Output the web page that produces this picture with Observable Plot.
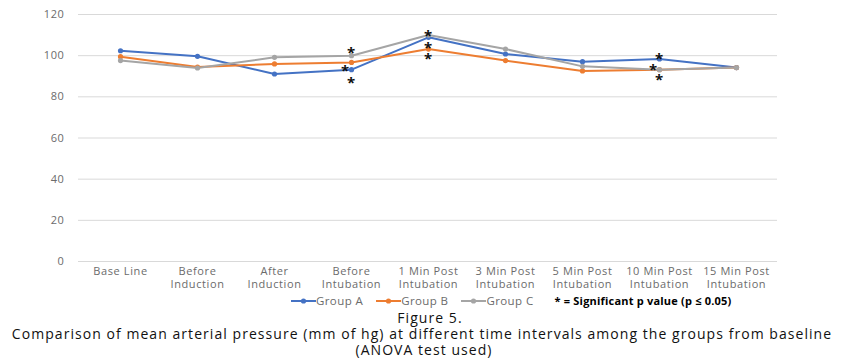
<!DOCTYPE html>
<html>
<head>
<meta charset="utf-8">
<script src="https://cdn.jsdelivr.net/npm/d3@7"></script>
<script src="https://cdn.jsdelivr.net/npm/@observablehq/plot@0.6"></script>
<style>
  body { margin: 0; background: #fff; font-family: "Open Sans", sans-serif; }
  #wrap { position: relative; width: 844px; height: 360px; }
  #legend { position: absolute; left: 291px; top: 293px; display: flex; align-items: center; font-size: 11.5px; letter-spacing: 0.4px; color: #6b6b6b; white-space: nowrap; line-height: 16px; }
  #legend .item { display: flex; align-items: center; margin-right: 13px; }
  #legend .sig { color: #000; font-weight: bold; margin-left: 8px; font-size: 11px; letter-spacing: 0.2px; }
  .cap { position: absolute; left: 0; width: 844px; text-align: center; color: #111; font-size: 14px; letter-spacing: 1.05px; white-space: nowrap; line-height: 15px; height: 15px; }
</style>
</head>
<body>
<div id="wrap">
  <div id="chart"></div>
  <div id="legend"></div>
  <div class="cap" style="top:310px; left:8px">Figure 5.</div>
  <div class="cap" style="top:326px">Comparison of mean arterial pressure (mm of hg) at different time intervals among the groups from baseline</div>
  <div class="cap" style="top:342px; left:2px">(ANOVA test used)</div>
</div>
<script>
const categories = [
  "Base Line", "Before\nInduction", "After\nInduction", "Before\nIntubation",
  "1 Min Post\nIntubation", "3 Min Post\nIntubation", "5 Min Post\nIntubation",
  "10 Min Post\nIntubation", "15 Min Post\nIntubation"
];
const groupA = [102.4, 99.7, 91.1, 93.2, 108.9, 100.8, 97.1, 98.4, 94.2];
const groupB = [99.5, 94.5, 96.0, 96.7, 103.2, 97.6, 92.6, 93.2, 94.2];
const groupC = [97.6, 94.0, 99.2, 100.0, 110.0, 103.2, 94.8, 93.2, 94.2];
const seriesNames = ["Group A", "Group B", "Group C"];
const seriesColors = ["#4472C4", "#ED7D31", "#A5A5A5"];
const yTicks = [0, 20, 40, 60, 80, 100, 120];
// significance markers: category index, value position, shifted left?
const sigCat = [3, 3, 3, 4, 4, 4, 7, 7, 7];
const sigVal = [103.2, 94.4, 88.8, 111.6, 105.8, 100.4, 100.4, 94.8, 90.0];
const sigLeft = [false, true, false, false, false, false, false, true, false];

const rows = [];
[groupA, groupB, groupC].forEach((vals, s) => {
  vals.forEach((v, i) => rows.push({cat: categories[i], value: v, group: seriesNames[s]}));
});
const sig = sigCat.map((c, i) => ({cat: categories[c], value: sigVal[i], left: sigLeft[i]}));

const plot = Plot.plot({
  width: 844,
  height: 292,
  marginTop: 14,
  marginBottom: 31,
  marginLeft: 78,
  marginRight: 67,
  style: {fontFamily: "Open Sans, sans-serif", fontSize: "11px", color: "#6b6b6b", letterSpacing: "0.6px"},
  x: {type: "point", domain: categories, padding: 0.5, label: null},
  y: {domain: [0, 120], ticks: yTicks, label: null},
  color: {domain: seriesNames, range: seriesColors},
  marks: [
    Plot.gridY(yTicks, {stroke: "#d9d9d9", strokeOpacity: 1, strokeWidth: 1}),
    Plot.axisY({ticks: yTicks, tickSize: 0, tickPadding: 14, label: null}),
    Plot.axisX({tickSize: 0, tickPadding: 5, label: null, lineHeight: 1.13}),
    Plot.line(rows, {x: "cat", y: "value", stroke: "group", strokeWidth: 2}),
    Plot.dot(rows, {x: "cat", y: "value", fill: "group", r: 2.6}),
    Plot.text(sig.filter(d => !d.left), {x: "cat", y: "value", text: () => "*", fill: "#111", fontSize: 15, fontWeight: "bold", dy: 4}),
    Plot.text(sig.filter(d => d.left), {x: "cat", y: "value", text: () => "*", fill: "#111", fontSize: 15, fontWeight: "bold", dy: 4, dx: -6})
  ]
});
document.getElementById("chart").appendChild(plot);

const legend = document.getElementById("legend");
seriesNames.forEach((name, i) => {
  const item = document.createElement("div");
  item.className = "item";
  item.innerHTML = `<svg width="25" height="8"><line x1="0" y1="4" x2="25" y2="4" stroke="${seriesColors[i]}" stroke-width="2"/><circle cx="12.5" cy="4" r="2.6" fill="${seriesColors[i]}"/></svg><span>${name}</span>`;
  legend.appendChild(item);
});
const sigEl = document.createElement("div");
sigEl.className = "sig";
sigEl.textContent = "* = Significant p value (p \u2264 0.05)";
legend.appendChild(sigEl);
</script>
</body>
</html>
